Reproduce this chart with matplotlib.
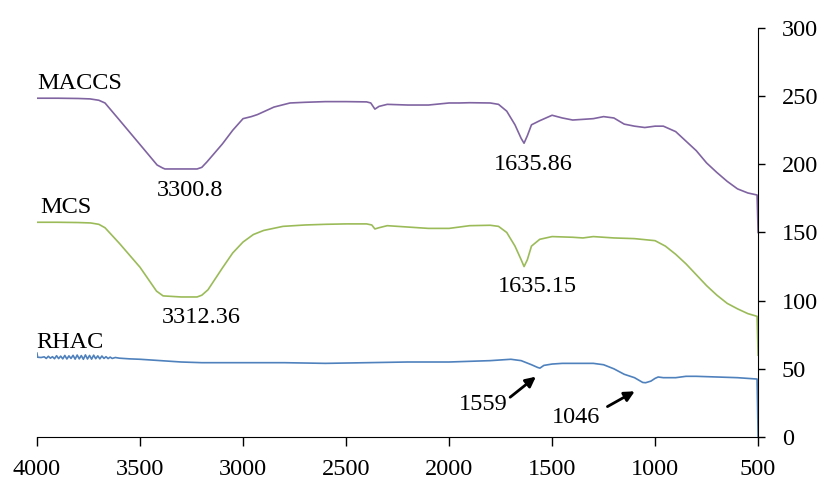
import numpy as np
import matplotlib.pyplot as plt

plt.rcParams['font.family'] = ['Liberation Serif', 'DejaVu Serif']

# MACCS spectrum (wavenumber, value)
maccs_w = [4000, 3900, 3800, 3743, 3700, 3670, 3600, 3500, 3417, 3390, 3379, 3300,
           3223, 3200, 3175, 3100, 3050, 3000, 2960, 2930, 2850, 2772, 2700, 2600,
           2500, 2400, 2380, 2360, 2340, 2300, 2200, 2100, 2000, 1950, 1900, 1800,
           1760, 1720, 1680, 1650, 1636, 1620, 1600, 1560, 1500, 1450, 1400, 1350,
           1300, 1250, 1200, 1150, 1100, 1050, 1000, 960, 900, 850, 800, 750, 700,
           650, 600, 550, 505, 500]
maccs_v = [248.5, 248.5, 248.3, 248, 247, 245, 232.5, 214.5, 199.5, 197.3, 196.6, 196.6,
           196.6, 197.8, 201.8, 215, 225, 233.5, 235, 236.5, 242, 245, 245.5, 246,
           246, 245.8, 245, 240.5, 242.5, 244, 243.5, 243.5, 245, 245, 245.2, 245,
           244, 239, 229, 219, 215.5, 221, 229, 232, 236, 234, 232.5, 233,
           233.5, 235, 234, 229.5, 228, 227, 228, 228, 224, 217, 210, 201, 194,
           187.5, 182, 179, 177.5, 150]

# MCS spectrum
mcs_w = [4000, 3900, 3800, 3740, 3700, 3670, 3600, 3500, 3420, 3388, 3300, 3223,
         3200, 3170, 3100, 3050, 3000, 2950, 2900, 2806, 2700, 2600, 2500, 2400,
         2375, 2360, 2340, 2300, 2200, 2100, 2000, 1900, 1800, 1760, 1720, 1680,
         1650, 1636, 1620, 1600, 1560, 1500, 1400, 1350, 1300, 1250, 1200, 1100,
         1000, 950, 900, 850, 800, 750, 700, 650, 600, 550, 505, 500]
mcs_v = [157.5, 157.5, 157.3, 157, 156, 153.5, 142, 124.5, 107, 103.5, 102.7, 102.7,
         104, 108, 124, 135, 143, 148.5, 151.5, 154.5, 155.5, 156, 156.3, 156.3,
         155.5, 152.6, 153.5, 155, 154, 153, 153, 155, 155.3, 154.5, 150, 140,
         130, 125, 130, 140, 145, 147, 146.5, 146, 147, 146.5, 146, 145.5,
         144, 140, 134, 127, 119, 111, 104, 98, 94, 90.5, 88.5, 60]

# RHAC spectrum
rhac_w = [4000, 3997, 3980, 3965, 3955, 3945, 3935, 3925, 3915, 3905, 3895, 3885,
          3875, 3865, 3855, 3845, 3835, 3825, 3815, 3805, 3795, 3785, 3775, 3765,
          3755, 3745, 3735, 3725, 3715, 3705, 3695, 3685, 3675, 3665, 3655, 3645,
          3635, 3620, 3600, 3550, 3500, 3400, 3300, 3200, 3000, 2800, 2600, 2400,
          2200, 2000, 1900, 1800, 1700, 1650, 1600, 1570, 1559, 1540, 1500, 1450,
          1400, 1350, 1300, 1250, 1200, 1150, 1100, 1060, 1046, 1020, 1000, 985,
          960, 900, 850, 800, 700, 600, 505, 500]
rhac_v = [61.5, 58.5, 58.3, 58.8, 57.6, 59.2, 57.8, 58.9, 57.4, 59.6, 57.5, 59.3,
          57.3, 59.8, 57.2, 59.5, 57.6, 59.9, 57.1, 60.1, 57.3, 59.7, 57.0, 60.2,
          57.2, 59.8, 57.1, 60.0, 57.4, 59.5, 57.3, 59.4, 57.6, 58.9, 57.5, 58.6,
          57.6, 58.3, 57.8, 57.3, 57, 56, 55, 54.5, 54.5, 54.5, 54, 54.5,
          55, 55, 55.5, 56, 57, 56, 53, 51, 50.5, 52.5, 53.5, 54,
          54, 54, 54, 53, 50, 46, 43.5, 40, 39.8, 41, 43, 44,
          43.5, 43.5, 44.5, 44.5, 44, 43.5, 42.5, 0]

series = [("MACCS", maccs_w, maccs_v, "#8064A2"),
          ("MCS", mcs_w, mcs_v, "#9BBB59"),
          ("RHAC", rhac_w, rhac_v, "#4F81BD")]

# name labels and peak labels
names = ["MACCS", "MCS", "RHAC"]
name_pos = [(4000, 255.5), (3985, 164.3), (4005, 65.3)]
peaks = ["3300.8", "3312.36", "1635.86", "1635.15"]
peak_pos = [(3257, 176.8), (3204, 83.6), (1590, 195.9), (1573, 106.4)]
arrows = ["1559", "1046"]
arrow_text = [(1835, 19.8), (1383, 10.3)]
arrow_tip = [(1568, 45.5), (1087, 34.5)]
arrow_tail = [(1714, 27.9), (1243, 21.3)]

fig = plt.figure(figsize=(8.26, 4.82), dpi=100)
ax = fig.add_axes([0.0448, 0.0934, 0.873, 0.8485])

for name, w, v, c in series:
    ax.plot(w, v, color=c, lw=1.2)

fs = 17.5
for t, (x, y) in zip(names, name_pos):
    ax.text(x, y, t, fontsize=fs, ha='left', va='baseline')
for t, (x, y) in zip(peaks, peak_pos):
    ax.text(x, y, t, fontsize=fs, ha='center', va='baseline')
for t, p, tip, tail in zip(arrows, arrow_text, arrow_tip, arrow_tail):
    ax.text(p[0], p[1], t, fontsize=fs, ha='center', va='baseline')
    ax.annotate("", xy=tip, xytext=tail,
                arrowprops=dict(arrowstyle="-|>", color='black', lw=2,
                                mutation_scale=15))

ax.set_xlim(4000, 500)
ax.set_ylim(0, 300)
ax.set_xticks(np.arange(4000, 499, -500))
ax.set_yticks(np.arange(0, 301, 50))

ax.spines['left'].set_visible(False)
ax.spines['top'].set_visible(False)
ax.yaxis.tick_right()
ax.tick_params(axis='y', direction='out', length=5, width=1, pad=12, labelsize=fs)
ax.tick_params(axis='x', direction='out', length=6.5, width=1, pad=9, labelsize=fs)

fig.savefig("out.png", dpi=100)
